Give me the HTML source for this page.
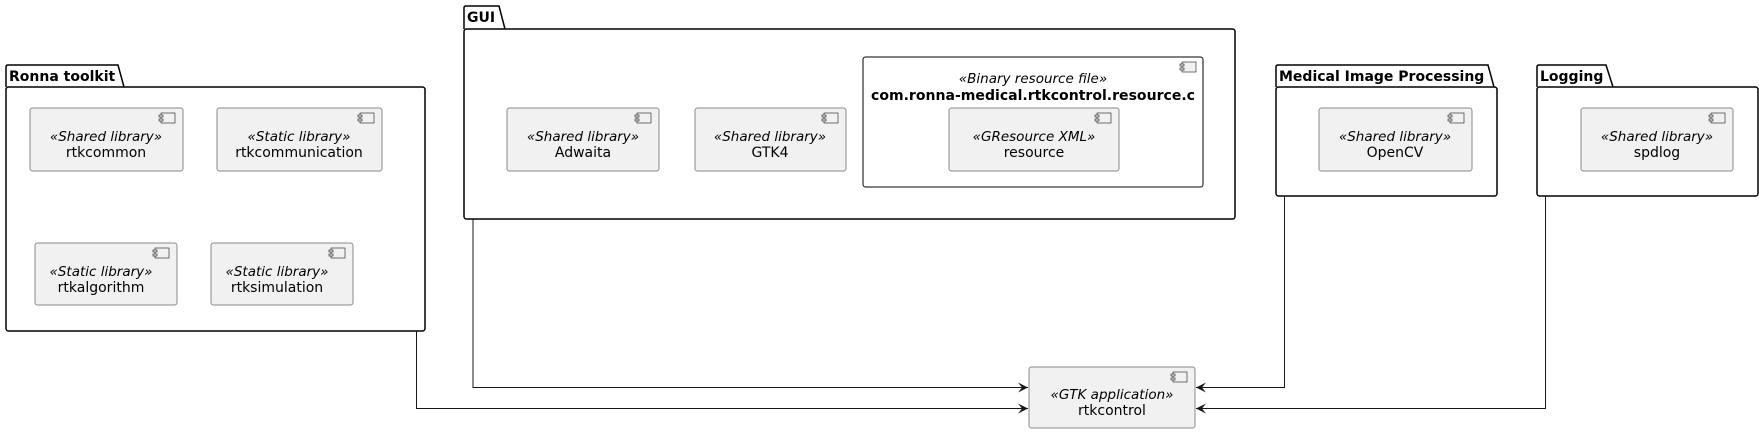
<!DOCTYPE html>
<html><head><meta charset="utf-8"><style>
html,body{margin:0;padding:0;background:#fff;}
svg{display:block;}
text{font-family:"DejaVu Sans","Liberation Sans",sans-serif;font-size:14px;fill:#000;}
.st{font-style:italic;font-size:13.5px;}
.b{font-weight:bold;}
.comp{fill:#F1F1F1;stroke:#888;stroke-width:1;}
.pk{fill:#fff;stroke:#000;stroke-width:1.5;}
.ln{fill:none;stroke:#181818;stroke-width:1;}
</style></head><body>
<svg width="1759" height="433" viewBox="0 0 1759 433" xmlns="http://www.w3.org/2000/svg">
<defs>
<g id="ic"><rect x="0" y="0" width="14" height="10" fill="#F1F1F1" stroke="#181818" stroke-width="0.6"/><rect x="-2" y="2" width="4" height="2" fill="#F1F1F1" stroke="#181818" stroke-width="0.6"/><rect x="-2" y="6" width="4" height="2" fill="#F1F1F1" stroke="#181818" stroke-width="0.6"/></g>
<marker id="ar" markerWidth="12" markerHeight="10" refX="10" refY="5" orient="auto" markerUnits="userSpaceOnUse"><path d="M0,0 L10,5 L0,10 L4,5 Z" fill="#181818"/></marker>
</defs>

<!-- Ronna toolkit -->
<path class="pk" d="M6,87 L6,67 Q6,65 8,65 L118,65 L124,87"/>
<rect class="pk" x="6" y="87" width="419" height="244" rx="2.5"/>
<text x="9" y="81" class="b">Ronna toolkit</text>

<rect class="comp" x="30" y="108" width="153" height="63" rx="2.5"/><use href="#ic" x="161" y="113"/>
<text x="106" y="141" class="st" text-anchor="middle">«Shared library»</text><text x="106" y="157" text-anchor="middle">rtkcommon</text>
<rect class="comp" x="217" y="108" width="165" height="63" rx="2.5"/><use href="#ic" x="360" y="113"/>
<text x="299" y="141" class="st" text-anchor="middle">«Static library»</text><text x="299" y="157" text-anchor="middle">rtkcommunication</text>
<rect class="comp" x="35" y="243" width="142" height="62" rx="2.5"/><use href="#ic" x="155" y="248"/>
<text x="101" y="276" class="st" text-anchor="middle">«Static library»</text><text x="101" y="292" text-anchor="middle">rtkalgorithm</text>
<rect class="comp" x="211" y="243" width="142" height="62" rx="2.5"/><use href="#ic" x="331" y="248"/>
<text x="277" y="276" class="st" text-anchor="middle">«Static library»</text><text x="277" y="292" text-anchor="middle">rtksimulation</text>

<!-- GUI -->
<path class="pk" d="M464,29 L464,8 Q464,6 466,6 L499,6 L505,29"/>
<rect class="pk" x="464" y="29" width="771" height="190" rx="2.5"/>
<text x="467" y="22" class="b">GUI</text>
<rect class="comp" x="507" y="108" width="152" height="63" rx="2.5"/><use href="#ic" x="637" y="113"/>
<text x="583" y="141" class="st" text-anchor="middle">«Shared library»</text><text x="583" y="157" text-anchor="middle">Adwaita</text>
<rect class="comp" x="695" y="108" width="151" height="63" rx="2.5"/><use href="#ic" x="824" y="113"/>
<text x="770" y="141" class="st" text-anchor="middle">«Shared library»</text><text x="770" y="157" text-anchor="middle">GTK4</text>
<rect x="863" y="57" width="340" height="130" rx="2.5" fill="#fff" stroke="#000" stroke-width="1"/><use href="#ic" x="1182" y="62"/>
<text x="1033" y="83" class="st" text-anchor="middle">«Binary resource file»</text>
<text x="1033" y="100" class="b" text-anchor="middle" textLength="324" lengthAdjust="spacingAndGlyphs">com.ronna-medical.rtkcontrol.resource.c</text>
<rect class="comp" x="949" y="108" width="170" height="63" rx="2.5"/><use href="#ic" x="1097" y="113"/>
<text x="1034" y="141" class="st" text-anchor="middle">«GResource XML»</text><text x="1034" y="157" text-anchor="middle">resource</text>

<!-- Medical -->
<path class="pk" d="M1276,87 L1276,67 Q1276,65 1278,65 L1488,65 L1494,87"/>
<rect class="pk" x="1276" y="87" width="221" height="109" rx="2.5"/>
<text x="1279" y="81" class="b">Medical Image Processing</text>
<rect class="comp" x="1319" y="108" width="153" height="63" rx="2.5"/><use href="#ic" x="1450" y="113"/>
<text x="1395" y="141" class="st" text-anchor="middle">«Shared library»</text><text x="1395" y="157" text-anchor="middle">OpenCV</text>

<!-- Logging -->
<path class="pk" d="M1537,87 L1537,67 Q1537,65 1539,65 L1606,65 L1613,87"/>
<rect class="pk" x="1537" y="87" width="221" height="109" rx="2.5"/>
<text x="1540" y="81" class="b">Logging</text>
<rect class="comp" x="1581" y="108" width="152" height="63" rx="2.5"/><use href="#ic" x="1711" y="113"/>
<text x="1657" y="141" class="st" text-anchor="middle">«Shared library»</text><text x="1657" y="157" text-anchor="middle">spdlog</text>

<!-- rtkcontrol -->
<rect class="comp" x="1029" y="367" width="166" height="61" rx="2.5"/><use href="#ic" x="1173" y="372"/>
<text x="1112" y="399" class="st" text-anchor="middle">«GTK application»</text><text x="1112" y="415" text-anchor="middle">rtkcontrol</text>

<!-- connectors -->
<path class="ln" d="M473,219 L473,387.5 L1028,387.5" marker-end="url(#ar)"/>
<path class="ln" d="M416.5,331 L416.5,408.5 L1028,408.5" marker-end="url(#ar)"/>
<path class="ln" d="M1284.5,196 L1284.5,387.5 L1196,387.5" marker-end="url(#ar)"/>
<path class="ln" d="M1545.5,196 L1545.5,408.5 L1196,408.5" marker-end="url(#ar)"/>
</svg>
</body></html>
